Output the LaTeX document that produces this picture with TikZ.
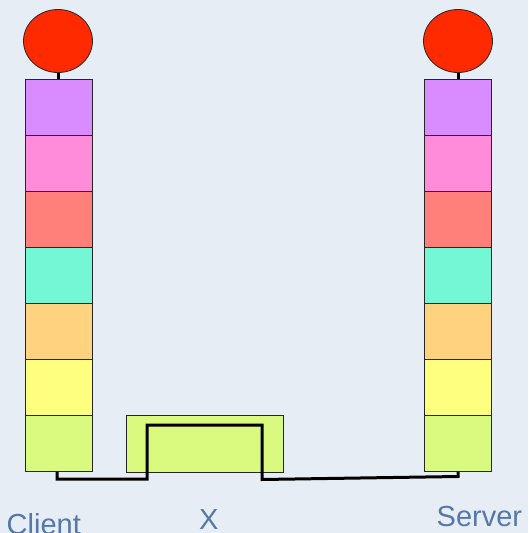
\documentclass[tikz,border=0pt]{standalone}
\usepackage{fontspec}
\setmainfont{Liberation Sans}
\usetikzlibrary{shapes.geometric}
\definecolor{bg}{HTML}{E7EDF5}
\definecolor{c1}{HTML}{D98CFF}
\definecolor{c2}{HTML}{FF8CDB}
\definecolor{c3}{HTML}{FF7F7A}
\definecolor{c4}{HTML}{73F7D4}
\definecolor{c5}{HTML}{FFD27F}
\definecolor{c6}{HTML}{FFFF7F}
\definecolor{c7}{HTML}{D9FA7F}
\definecolor{head}{HTML}{FF2A00}
\definecolor{lbl}{HTML}{5577AA}
\tikzset{
  layer/.style={draw=black!85, line width=0.8pt, minimum width=67pt, minimum height=56pt, inner sep=0pt, anchor=north west},
  headnode/.style={ellipse, draw=black!85, line width=0.8pt, fill=head, minimum width=69pt, minimum height=63pt, inner sep=0pt},
  stem/.style={line width=3pt, black},
  wire/.style={line width=3pt, black, line join=miter},
  lab/.style={text=lbl, font=\fontsize{29}{31}\selectfont, inner sep=0pt, anchor=base west}
}
\begin{document}
\begin{tikzpicture}[x=1pt,y=-1pt]
\fill[bg] (0,0) rectangle (528,533);
\useasboundingbox (0,0) rectangle (528,533);
% left stack
\foreach \i/\c in {1/c1,2/c2,3/c3,4/c4,5/c5,6/c6,7/c7}{
  \node[layer, fill=\c] (L\i) at (25,{79+56*(\i-1)}) {};
  \node[layer, fill=\c] (R\i) at (424,{79+56*(\i-1)}) {};
}
\node[headnode] (LH) at (58,41) {};
\node[headnode] (RH) at (458,41) {};
\draw[stem] (LH.south) -- (L1.north -| LH.south);
\draw[stem] (RH.south) -- (R1.north -| RH.south);
% X box
\node[layer, fill=c7, minimum width=157pt, minimum height=57pt] (XB) at (126,415) {};
% wire
\coordinate (w1) at (57,479);
\coordinate (w2) at (147,479);
\coordinate (w3) at (147,425);
\coordinate (w4) at (262,425);
\coordinate (w5) at (262,479.5);
\coordinate (w6) at (458,476.5);
\draw[wire] (L7.south -| w1) -- (w1) -- (w2) -- (w3) -- (w4) -- (w5) -- (w6) -- (R7.south -| w6);
% labels
\node[lab] (client) at (6.5,534) {Client};
\node[lab] (x) at (199,529) {X};
\node[lab] (server) at (436.5,526) {Server};
\end{tikzpicture}
\end{document}
